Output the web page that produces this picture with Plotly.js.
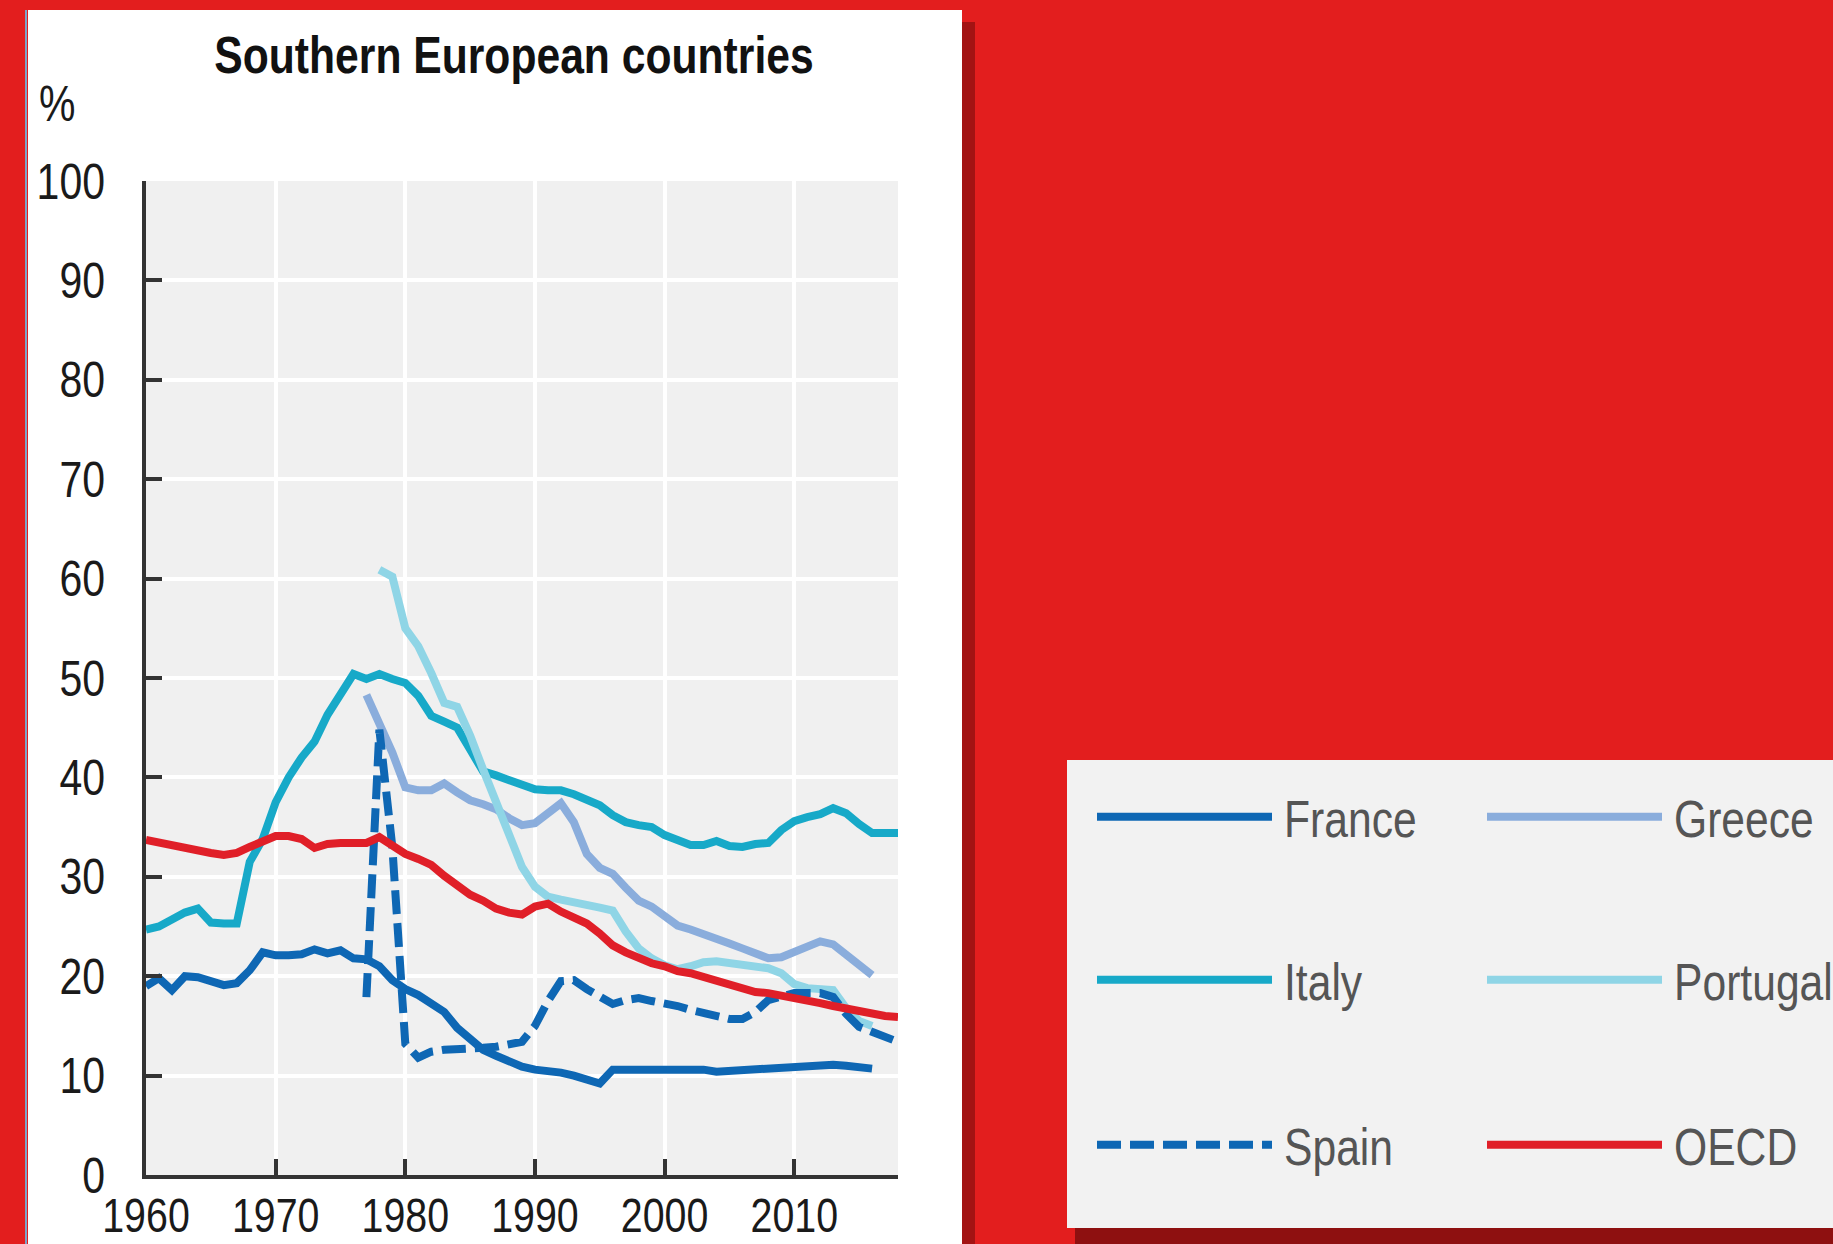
<!DOCTYPE html>
<html>
<head>
<meta charset="utf-8">
<script src="https://cdn.plot.ly/plotly-3.0.1.min.js"></script>
<style>
html,body{margin:0;padding:0;background:#e31e1e;}
#chart{width:1833px;height:1244px;}
</style>
</head>
<body>
<div id="chart"></div>
<script>
// ---- data ----
const years = [1960,1961,1962,1963,1964,1965,1966,1967,1968,1969,
               1970,1971,1972,1973,1974,1975,1976,1977,1978,1979,
               1980,1981,1982,1983,1984,1985,1986,1987,1988,1989,
               1990,1991,1992,1993,1994,1995,1996,1997,1998,1999,
               2000,2001,2002,2003,2004,2005,2006,2007,2008,2009,
               2010,2011,2012,2013,2014,2015,2016,2017,2018];

// France 1960-2016
const france = [19.0,19.8,18.6,20.0,19.9,19.6,19.1,19.3,20.6,22.4,
                22.1,22.1,22.2,22.7,22.3,22.6,21.8,21.7,21.0,19.6,
                18.7,18.1,17.3,16.4,14.8,13.6,12.6,12.0,11.4,10.9,
                10.6,10.5,10.3,10.0,9.7,9.2,10.6,10.6,10.6,10.6,
                10.7,10.7,10.7,10.6,10.4,10.5,10.6,10.7,10.7,10.8,
                10.8,10.9,11.0,11.1,11.0,10.8,10.7];
// Greece 1977-2016
const greece = [48.3,45.4,42.5,39.0,38.7,38.7,39.4,38.5,37.7,37.3,
                36.8,35.9,35.2,35.4,36.5,37.4,35.5,32.3,30.9,30.3,
                28.9,27.6,27.0,26.0,25.1,24.7,24.3,23.8,23.3,22.8,
                22.4,21.8,21.9,22.4,23.1,23.5,23.2,22.2,21.1,20.1];
// Italy 1960-2018
const italy = [24.7,25.0,25.7,26.4,26.8,25.4,25.3,25.3,31.5,33.8,
               37.5,40.0,42.0,43.6,46.3,48.5,50.4,49.9,50.4,49.9,
               49.5,48.2,46.2,45.6,45.0,42.8,40.6,40.2,39.8,39.4,
               38.8,38.7,38.7,38.3,37.8,37.2,36.2,35.5,35.2,35.0,
               34.2,33.6,33.2,33.2,33.6,33.1,33.0,33.3,33.4,34.7,
               35.6,36.0,36.3,36.9,36.4,35.3,34.4,34.4,34.4];
// Portugal 1978-2016
const portugal = [60.9,60.2,55.0,53.2,50.5,47.5,47.1,44.2,40.8,37.5,
                  34.0,31.0,29.0,28.0,27.7,27.5,27.2,26.9,26.6,24.5,
                  22.8,21.8,21.1,20.7,21.0,21.4,21.5,21.3,21.1,20.9,
                  20.8,20.3,19.2,18.8,18.8,18.6,16.8,15.5,15.0];
// Spain 1977-2018
const spain = [17.9,44.8,33.0,13.2,11.8,12.4,12.6,12.6,12.6,12.8,
               12.9,13.1,13.4,15.0,17.5,19.5,19.6,18.7,17.9,17.2,
               17.6,17.8,17.5,17.3,17.0,16.6,16.3,16.0,15.7,15.7,
               16.4,17.6,18.0,18.3,18.3,18.3,17.9,16.2,14.9,14.4,
               13.9,13.4];
// OECD 1960-2018
const oecd = [33.7,33.4,33.1,32.8,32.6,32.4,32.2,32.4,33.0,33.5,
              34.1,34.1,33.8,32.9,33.3,33.4,33.4,33.4,34.0,33.2,
              32.3,31.8,31.2,30.1,29.1,28.2,27.6,26.8,26.4,26.2,
              27.0,27.3,26.5,25.8,25.3,24.3,23.1,22.4,21.8,21.3,
              21.0,20.5,20.3,19.9,19.6,19.1,18.6,18.4,18.3,18.1,
              17.9,17.6,17.3,17.0,16.7,16.4,16.2,16.0,15.9];

const xTicks = [1960,1970,1980,1990,2000,2010];
const yTicks = [0,10,20,30,40,50,60,70,80,90,100];
const titleText = 'Southern European countries';
const unitText = '%';

// ---- helpers ----
const W = 1833, H = 1244;
const pL = 146, pR = 898, pT = 181, pB = 1175;
const px = x => (x - pL) / (pR - pL);
const py = y => (pB - y) / (pB - pT);
const yrs = (start, arr) => years.slice(years.indexOf(start), years.indexOf(start) + arr.length);

const FONT = 'Liberation Sans, Arial, sans-serif';
const NARROW = 0.82;   // Arial Narrow look: Liberation Sans condensed horizontally
const LW = 8;

const traces = [
  {name:'France', x:yrs(1960,france), y:france, line:{color:'#0e67b4', width:LW}, legend:'legend'},
  {name:'Greece', x:yrs(1977,greece), y:greece, line:{color:'#8aaddc', width:LW}, legend:'legend'},
  {name:'Italy', x:yrs(1960,italy), y:italy, line:{color:'#17a9c8', width:LW}, legend:'legend2'},
  {name:'Portugal', x:yrs(1978,portugal), y:portugal, line:{color:'#8fd5e6', width:LW}, legend:'legend2'},
  {name:'Spain', x:yrs(1977,spain), y:spain, line:{color:'#0e67b4', width:LW, dash:'24px,9px'}, legend:'legend3'},
  {name:'OECD', x:yrs(1960,oecd), y:oecd, line:{color:'#e01f28', width:LW}, legend:'legend3'}
].map(t => Object.assign({type:'scatter', mode:'lines', hoverinfo:'skip'}, t));

const rect = (x0,y0,x1,y1,color) => ({type:'rect', xref:'paper', yref:'paper',
  x0:px(x0), x1:px(x1), y0:py(y1), y1:py(y0), fillcolor:color, line:{width:0}, layer:'below'});

const ITEMW = 175, COLSTEP = 390;
const legendBase = (yc) => ({
  orientation:'h', xref:'paper', yref:'paper', x:px(1092), xanchor:'left',
  y:py(yc), yanchor:'middle', bgcolor:'rgba(0,0,0,0)', borderwidth:0,
  font:{family:FONT, size:52, color:'#555555'},
  itemwidth:ITEMW, entrywidth:COLSTEP - ITEMW - 15, entrywidthmode:'pixels',
  valign:'middle', itemclick:false, itemdoubleclick:false
});

const axisCommon = {
  showgrid:true, gridcolor:'#ffffff', gridwidth:4,
  showline:true, linecolor:'#333333', linewidth:4,
  ticks:'inside', ticklen:16, tickwidth:4, tickcolor:'#333333',
  tickfont:{family:FONT, size:50, color:'#1a1a1a'},
  zeroline:false, fixedrange:true
};

const layout = {
  width:W, height:H,
  margin:{l:pL, r:W-pR, t:pT, b:H-pB, autoexpand:false},
  paper_bgcolor:'#e31e1e', plot_bgcolor:'rgba(0,0,0,0)',
  title:{text:titleText, x:514/W, xref:'container', xanchor:'center',
         y:1-55/H, yref:'container', yanchor:'middle',
         font:{family:FONT, size:52, color:'#111111', weight:700}},
  xaxis:Object.assign({}, axisCommon, {range:[1960,2018], tickvals:xTicks, ticktext:xTicks.map(String),
         ticklabelstandoff:-5, tickfont:{family:FONT, size:48, color:'#1a1a1a'}}),
  yaxis:Object.assign({}, axisCommon, {range:[0,100], tickvals:yTicks, ticktext:yTicks.map(String), ticklabelstandoff:27}),
  showlegend:true,
  legend:legendBase(817),
  legend2:legendBase(980),
  legend3:legendBase(1145),
  annotations:[{text:unitText, xref:'paper', yref:'paper', x:px(33), y:py(104),
    xanchor:'left', yanchor:'middle', showarrow:false,
    font:{family:FONT, size:50, color:'#1a1a1a'}}],
  shapes:[
    rect(962,22,975,1244,'#a31313'),
    rect(28,10,962,1244,'#ffffff'),
    {type:'line', xref:'paper', yref:'paper', x0:px(26), x1:px(26), y0:py(10), y1:py(1244), line:{color:'#7ea3c8', width:2}, layer:'below'},
    {type:'rect', xref:'paper', yref:'paper', x0:0, x1:1, y0:0, y1:1, fillcolor:'#f0f0f0', line:{width:0}, layer:'below'},
    rect(1075,1228,1833,1244,'#8e1010'),
    rect(1067,760,1833,1228,'#f2f2f2')
  ]
};

Plotly.newPlot('chart', traces, layout, {displayModeBar:false, staticPlot:true}).then(gd => {
  // condense every text horizontally around its anchor (Arial Narrow look)
  gd.querySelectorAll('text').forEach(t => {
    if (!t.textContent) return;
    const bb = t.getBBox();
    const anchor = t.getAttribute('text-anchor') || getComputedStyle(t).textAnchor || 'start';
    let ax = bb.x;
    if (anchor === 'middle') ax = bb.x + bb.width / 2;
    else if (anchor === 'end') ax = bb.x + bb.width;
    const r = t.getBoundingClientRect();
    const inLegendBox = r.left > 1067 && r.top > 760;
    const shift = inLegendBox ? 7 : 0;
    const tr = t.getAttribute('transform') || '';
    t.setAttribute('transform', tr + ' translate(' + (ax + shift) + ',0) scale(' + NARROW + ',1) translate(' + (-ax) + ',0)');
  });
});
</script>
</body>
</html>
